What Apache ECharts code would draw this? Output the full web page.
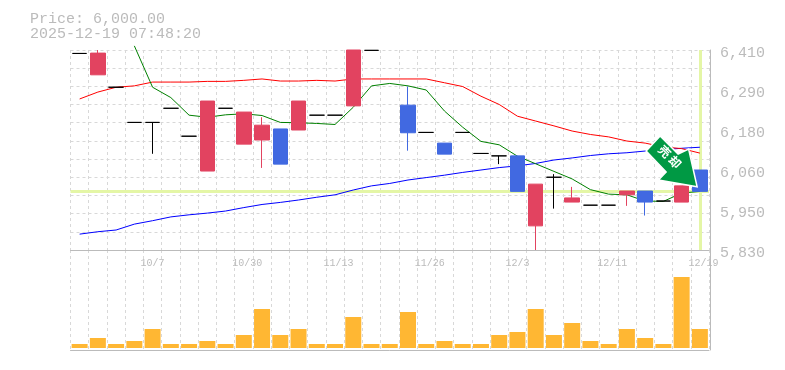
<!DOCTYPE html>
<html><head><meta charset="utf-8">
<style>html,body{margin:0;padding:0;background:#fff}#c{width:785px;height:370px}</style>
<script src="https://cdn.jsdelivr.net/npm/echarts@6/dist/echarts.min.js"></script>
</head><body><div id="c"></div>
<script>
const dates = ['','','','','10/7','','','','','10/30','','','','','11/13','','','','','11/26','','','','','12/3','','','','','12/11','','','','','12/19'];
const opens  = [6400,6338,6302,6200,6200,6241,6160,6059,6241,6137,6149,6181,6178,6221,6221,6248,6409,6440,6250,6171,6140,6171,6110,6103,6103,5900,6041,5969,5960,5960,5990,6001,5972,5969,6062];
const closes = [6400,6401,6302,6200,6200,6241,6160,6262,6241,6230,6192,6079,6262,6221,6221,6410,6409,6440,6170,6171,6108,6171,6110,6103,6000,6021,6041,5981,5960,5960,6001,5969,5972,6016,6000];
const lows   = [6400,6338,6302,6200,6109,6241,6160,6059,6241,6137,6068,6079,6178,6221,6221,6248,6409,6440,6118,6171,6108,6171,6110,6079,6000,5830,5950,5969,5960,5960,5958,5930,5972,5969,6000];
const highs  = [6400,6410,6302,6200,6200,6241,6160,6262,6241,6230,6215,6181,6262,6221,6221,6410,6409,6440,6304,6171,6140,6171,6110,6103,6103,6021,6050,6013,5960,5960,6001,6001,5972,6016,6062];
const volumes = [4,10,4,7,19,4,4,7,4,13,39,13,19,4,4,31,4,4,36,4,7,4,4,13,16,39,13,25,7,4,19,10,4,71,19];
const maShort = [null,null,null,6422,6302,6272,6221,6215,6222,6225,6220,6200,6199,6197,6194,6244,6306,6313,6306,6294,6233,6186,6145,6135,6102,6080,6058,6036,6005,5992,5990,5972,5971,5995,6000];
const maMid = [6268,6288,6302,6306,6317,6317,6317,6319,6319,6322,6326,6320,6320,6322,6320,6326,6326,6326,6326,6326,6315,6304,6276,6252,6218,6204,6190,6175,6165,6158,6146,6140,6129,6124,6111];
const maLong = [5876,5883,5888,5905,5915,5926,5932,5937,5943,5953,5962,5968,5975,5983,5990,6004,6016,6023,6033,6040,6047,6055,6062,6069,6074,6081,6091,6097,6104,6109,6112,6117,6121,6125,6128];
const yTicks = ['5,830','5,950','6,060','6,180','6,290','6,410'];
const priceNow = 6000;
const lastIdx = 34;
const gridColor = '#d8d8d8', axisColor = '#bbbbbb', textColor = '#bbbbbb';
const mono = '"Liberation Mono", monospace';
const L = 70.5, W = 638.5;

const chart = echarts.init(document.getElementById('c'), null, {renderer:'canvas'});
const xSplit = {show:true, interval:0, lineStyle:{color:gridColor, type:[3,3], width:1}};
const lineSeries = (name,data,color)=>({name,type:'line',data,xAxisIndex:0,yAxisIndex:0,symbol:'none',connectNulls:false,
  clip:false,z:3,silent:true,lineStyle:{color,width:1},itemStyle:{color}});
chart.setOption({
  animation:false,
  backgroundColor:'#ffffff',
  textStyle:{fontFamily:mono},
  title:[
    {text:'Price: 6,000.00',left:25,top:7,textStyle:{fontFamily:mono,fontSize:15,fontWeight:'normal',color:textColor}},
    {text:'2025-12-19 07:48:20',left:25,top:22,textStyle:{fontFamily:mono,fontSize:15,fontWeight:'normal',color:textColor}}
  ],
  grid:[
    {left:L,top:50,width:W,height:200},
    {left:L,top:250,width:W,height:100}
  ],
  xAxis:[
    {type:'category',gridIndex:0,data:dates,boundaryGap:true,
     axisLine:{show:true,onZero:false,lineStyle:{color:axisColor,width:1}},axisTick:{show:false},
     splitLine:xSplit,
     axisLabel:{show:true,interval:0,hideOverlap:false,margin:8,fontFamily:mono,fontSize:10,color:textColor,
       formatter:v=>v.length>=5?`{w|${v}}`:v,
       rich:{w:{fontFamily:mono,fontSize:10,color:textColor,padding:[0,0,0,7]}}}},
    {type:'category',gridIndex:1,data:dates,boundaryGap:true,
     axisLine:{show:true,onZero:false,lineStyle:{color:axisColor,width:1}},axisTick:{show:false},
     splitLine:xSplit,axisLabel:{show:false}}
  ],
  yAxis:[
    {type:'value',gridIndex:0,position:'right',min:5830,max:6410,interval:116,offset:1,scale:true,
     axisLine:{show:true,onZero:false,lineStyle:{color:axisColor,width:1}},axisTick:{show:false},
     splitLine:{show:false},
     axisLabel:{show:true,margin:10,fontFamily:mono,fontSize:15,color:textColor,verticalAlign:'top',lineHeight:6,
       formatter:(v)=>yTicks[Math.round((v-5830)/116)]}},
    {type:'value',gridIndex:0,position:'right',min:5830,max:6410,interval:580/11,scale:true,
     axisLine:{show:false},axisTick:{show:false},axisLabel:{show:false},
     splitLine:{show:true,lineStyle:{color:gridColor,type:[3,3],width:1}}},
    {type:'value',gridIndex:1,position:'right',min:-2,max:98,offset:1,
     axisLine:{show:true,onZero:false,lineStyle:{color:axisColor,width:1}},axisTick:{show:false},
     axisLabel:{show:false},splitLine:{show:false}}
  ],
  series:[
    {name:'level',type:'line',xAxisIndex:0,yAxisIndex:0,data:[],z:1,silent:true,
     markLine:{silent:true,symbol:'none',z:1,label:{show:false},animation:false,
       lineStyle:{color:'#e4f6a6',width:3,type:'solid'},
       data:[{yAxis:priceNow},{xAxis:lastIdx}]}},
    lineSeries('MA long',maLong,'#0000ff'),
    lineSeries('MA mid',maMid,'#ff0000'),
    lineSeries('MA short',maShort,'#008000'),
    {name:'Price',type:'candlestick',xAxisIndex:0,yAxisIndex:0,z:4,silent:true,barWidth:15,clip:true,
     data:opens.map((o,i)=>[o,closes[i],lows[i],highs[i]]),
     itemStyle:{color:'#e24360',color0:'#4169e1',borderColor:'#e24360',borderColor0:'#4169e1',borderColorDoji:'#000000',borderWidth:1},
     markPoint:{silent:true,z:10,animation:false,
       data:[{coord:[33,6087],symbol:'path://M645 151L659 136L677 154L687.5 149L696 186.7L657.3 180L665 172Z',
         symbolSize:[51,50.7],symbolOffset:[-10,0],symbolKeepAspect:false,
         itemStyle:{color:'#009944',borderColor:'#ffffff',borderWidth:1.5},
         label:{show:true,formatter:'売 却',position:'inside',offset:[-4.5,-2],rotate:-45,color:'#ffffff',fontFamily:'"Noto Sans CJK JP"',fontWeight:'bold',fontSize:12}}]}},
    {name:'Volume',type:'bar',xAxisIndex:1,yAxisIndex:2,data:volumes,barWidth:16,silent:true,
     itemStyle:{color:'#ffb733'}}
  ]
});
</script></body></html>
